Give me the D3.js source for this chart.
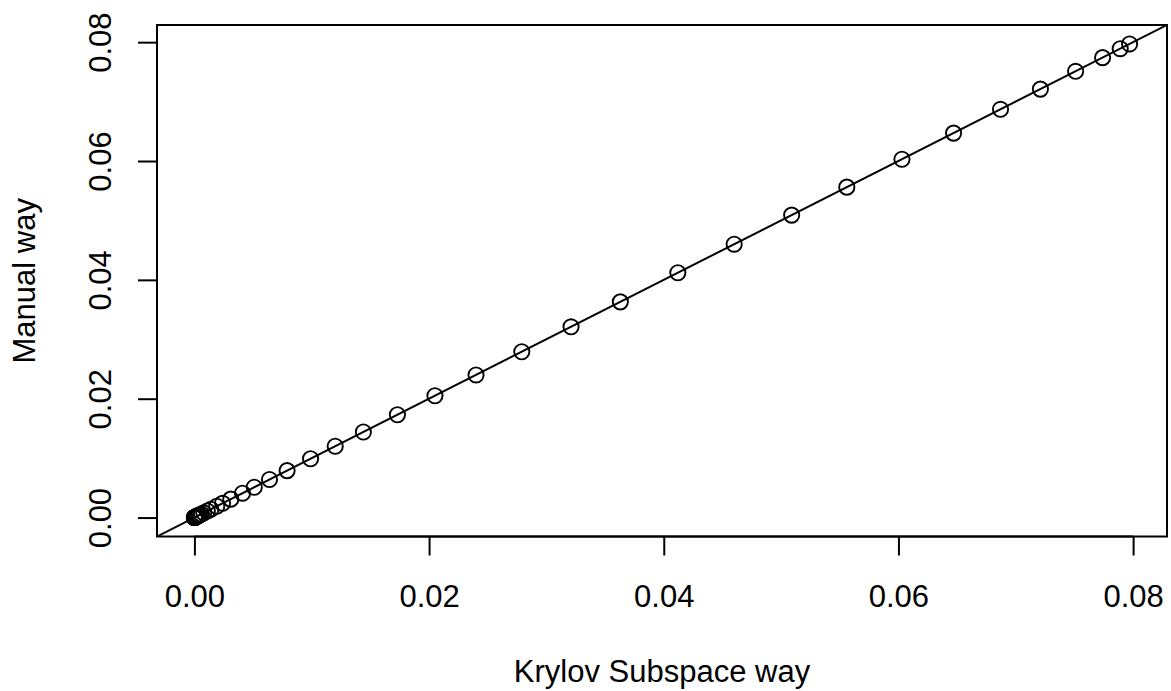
<!DOCTYPE html>
<html>
<head>
<meta charset="utf-8">
<script src="https://cdn.jsdelivr.net/npm/d3@7"></script>
<style>
  html, body { margin: 0; padding: 0; background: #fff; }
  svg text { font-family: "Liberation Sans", Arial, Helvetica, sans-serif; fill: #000; }
</style>
</head>
<body>
<svg id="chart" width="1171" height="691"></svg>
<script>
// Stationary probabilities from the two computation methods
const krylov = [0.0797, 0.0789, 0.0774, 0.0751, 0.0721, 0.0687, 0.0647, 0.0603, 0.0556, 0.0509,
                0.0460, 0.0412, 0.0363, 0.0321, 0.0279, 0.0240, 0.0205, 0.0173, 0.0144, 0.0120,
                0.0099, 0.0079, 0.0064, 0.0051, 0.0041, 0.0031, 0.0024, 0.0019, 0.0014, 0.0011,
                0.0008, 0.0006, 0.00045, 0.00033, 0.00024, 0.00017, 0.00012, 0.00008, 0.00005,
                0.00003, 0.00002, 0.00001, 0.000005, 0.000002, 0.0];
const manual = [0.0797, 0.0789, 0.0774, 0.0751, 0.0721, 0.0687, 0.0647, 0.0603, 0.0556, 0.0509,
                0.0460, 0.0412, 0.0363, 0.0321, 0.0279, 0.0240, 0.0205, 0.0173, 0.0144, 0.0120,
                0.0099, 0.0079, 0.0064, 0.0051, 0.0041, 0.0031, 0.0024, 0.0019, 0.0014, 0.0011,
                0.0008, 0.0006, 0.00045, 0.00033, 0.00024, 0.00017, 0.00012, 0.00008, 0.00005,
                0.00003, 0.00002, 0.00001, 0.000005, 0.000002, 0.0];
const xTicks = [0.00, 0.02, 0.04, 0.06, 0.08];
const yTicks = [0.00, 0.02, 0.04, 0.06, 0.08];
const xTitle = "Krylov Subspace way";
const yTitle = "Manual way";

const box = { left: 157, right: 1167, top: 25, bottom: 536.5 };
const fontSize = 31;

// Axis ranges padded by 4% on each side of the data
function padded(vals) {
  const [lo, hi] = d3.extent(vals);
  const p = (hi - lo) * 0.04;
  return [lo - p, hi + p];
}
const x = d3.scaleLinear().domain(padded(krylov)).range([box.left, box.right]);
const y = d3.scaleLinear().domain(padded(manual)).range([box.bottom, box.top]);

const svg = d3.select("#chart");

svg.append("defs").append("clipPath").attr("id", "plotclip")
  .append("rect")
  .attr("x", box.left).attr("y", box.top)
  .attr("width", box.right - box.left).attr("height", box.bottom - box.top);

// Identity reference line y = x
const lo = Math.min(x.domain()[0], y.domain()[0]);
const hi = Math.max(x.domain()[1], y.domain()[1]);
svg.append("line")
  .attr("clip-path", "url(#plotclip)")
  .attr("x1", x(lo)).attr("y1", y(lo))
  .attr("x2", x(hi)).attr("y2", y(hi))
  .attr("stroke", "#000").attr("stroke-width", 2);

// Points
svg.append("g")
  .selectAll("circle")
  .data(krylov.map((v, i) => [v, manual[i]]))
  .join("circle")
  .attr("cx", d => x(d[0]))
  .attr("cy", d => y(d[1]))
  .attr("r", 7.6)
  .attr("fill", "none")
  .attr("stroke", "#000")
  .attr("stroke-width", 1.9);

// Plot frame
svg.append("rect")
  .attr("x", box.left).attr("y", box.top)
  .attr("width", box.right - box.left).attr("height", box.bottom - box.top)
  .attr("fill", "none").attr("stroke", "#000").attr("stroke-width", 2);

// X axis
const xAxis = d3.axisBottom(x).tickValues(xTicks).tickFormat(d3.format(".2f")).tickSize(19).tickPadding(14);
const gx = svg.append("g").attr("transform", `translate(0,${box.bottom})`).call(xAxis);
gx.select(".domain")
  .attr("d", `M${x(xTicks[0])},0H${x(xTicks[xTicks.length - 1])}`)
  .attr("stroke", "#000").attr("stroke-width", 2);
gx.selectAll(".tick line").attr("stroke", "#000").attr("stroke-width", 2);
gx.selectAll(".tick text")
  .attr("font-size", fontSize)
  .attr("font-family", "Liberation Sans, Arial, sans-serif")
  .attr("fill", "#000")
  .attr("dy", null)
  .attr("y", 607 - box.bottom);

// Y axis with rotated tick labels
const yAxis = d3.axisLeft(y).tickValues(yTicks).tickFormat(d3.format(".2f")).tickSize(19);
const gy = svg.append("g").attr("transform", `translate(${box.left},0)`).call(yAxis);
gy.select(".domain")
  .attr("d", `M0,${y(yTicks[0])}V${y(yTicks[yTicks.length - 1])}`)
  .attr("stroke", "#000").attr("stroke-width", 2);
gy.selectAll(".tick line").attr("stroke", "#000").attr("stroke-width", 2);
gy.selectAll(".tick text")
  .attr("font-size", fontSize)
  .attr("font-family", "Liberation Sans, Arial, sans-serif")
  .attr("fill", "#000")
  .attr("x", null).attr("dy", null)
  .attr("text-anchor", "middle")
  .attr("transform", `translate(${111 - box.left},0) rotate(-90)`);

// Axis titles
svg.append("text")
  .attr("x", (box.left + box.right) / 2)
  .attr("y", 682)
  .attr("text-anchor", "middle")
  .attr("font-size", fontSize)
  .text(xTitle);

svg.append("text")
  .attr("transform", `translate(35,${(box.top + box.bottom) / 2}) rotate(-90)`)
  .attr("text-anchor", "middle")
  .attr("font-size", fontSize)
  .text(yTitle);
</script>
</body>
</html>
